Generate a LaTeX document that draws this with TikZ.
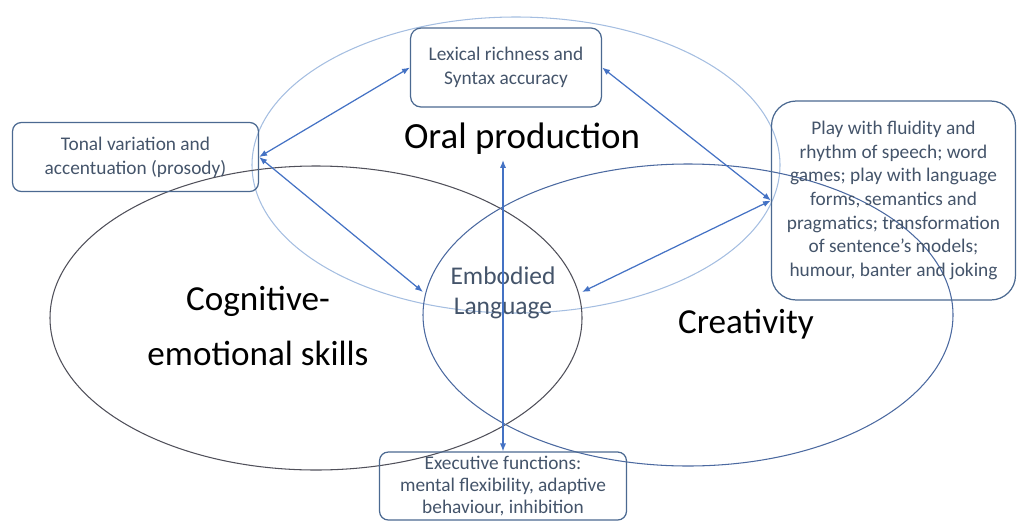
\documentclass[tikz,border=0pt]{standalone}
\usepackage{fontspec}
\setmainfont{Carlito}
\usetikzlibrary{arrows.meta}
\definecolor{oralblue}{RGB}{165,190,225}
\definecolor{cogline}{RGB}{80,80,90}
\definecolor{creablue}{RGB}{75,105,160}
\definecolor{arrowblue}{RGB}{68,114,196}
\definecolor{boxline}{RGB}{75,105,145}
\definecolor{boxtext}{RGB}{68,84,106}
\tikzset{
  idea/.style={draw=boxline,line width=0.7pt,rounded corners=5pt,align=center,
    text=boxtext,inner sep=0pt,font=\fontsize{11}{13.5}\selectfont},
  biglabel/.style={align=center,inner sep=0pt,font=\fontsize{20}{31}\selectfont},
  link/.style={arrowblue,line width=0.7pt,
    {Latex[length=4.5pt,width=3.5pt]}-{Latex[length=4.5pt,width=3.5pt]}}
}
\begin{document}
\begin{tikzpicture}[x=0.02cm,y=-0.02cm]
  \useasboundingbox (0,0) rectangle (1017,521);
  \draw[oralblue,line width=0.6pt] (516,165) ellipse [x radius=264,y radius=148];
  \draw[cogline,line width=0.6pt] (316,318) ellipse [x radius=266,y radius=152];
  \draw[creablue,line width=0.6pt] (688,315) ellipse [x radius=265,y radius=151];

  \node[biglabel,font=\fontsize{21}{25}\selectfont,anchor=base] (oral) at (522,148) {Oral production};
  \node[biglabel] (cognitive) at (258,326) {Cognitive-\\emotional skills};
  \node[biglabel,anchor=base] (creativity) at (746,333) {Creativity};
  \node[align=center,inner sep=0pt,text=boxtext,font=\fontsize{14.5}{17}\selectfont] (embodied) at (503,293) {Embodied\\Language};

  \node[idea,minimum width=4.92cm,minimum height=1.38cm] (tonal) at (135.5,157)
    {Tonal variation and\\accentuation (prosody)};
  \node[idea,rounded corners=6pt,minimum width=3.82cm,minimum height=1.58cm] (lexical) at (506,67.5)
    {Lexical richness and\\Syntax accuracy};
  \node[idea,rounded corners=14pt,minimum width=4.88cm,minimum height=3.98cm] (play) at (893.5,200.5)
    {Play with fluidity and\\rhythm of speech; word\\games; play with language\\forms, semantics and\\pragmatics; transformation\\of sentence’s models;\\humour, banter and joking};
  \node[idea,font=\fontsize{11}{12.5}\selectfont,minimum width=4.94cm,minimum height=1.36cm] (exec) at (503,486)
    {Executive functions:\\mental flexibility, adaptive\\behaviour, inhibition};

  \coordinate (embL) at (423,292);
  \coordinate (embR) at (582,292);
  \coordinate (oraltop) at (503,160);

  \draw[link] (tonal.east) -- (lexical.west);
  \draw[link] (tonal.east) -- (embL);
  \draw[link] (lexical.east) -- (play.west);
  \draw[link] (play.west) -- (embR);
  \draw[link] (oraltop) -- (exec.north);
\end{tikzpicture}
\end{document}
